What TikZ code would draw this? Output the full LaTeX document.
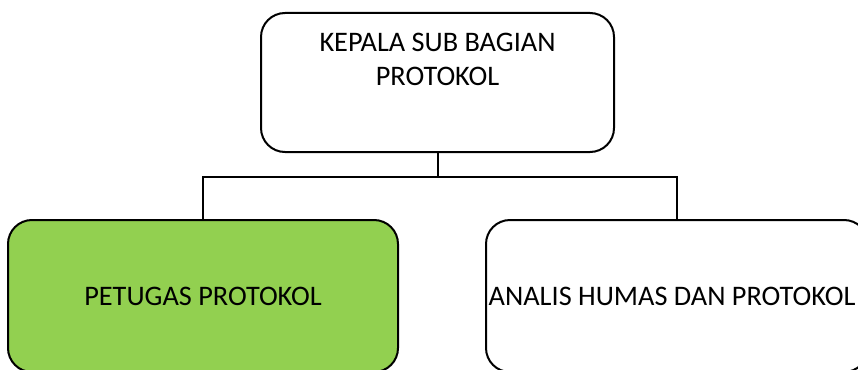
\documentclass[tikz,border=0pt]{standalone}
\usepackage{fontspec}
\setmainfont{Carlito}
\begin{document}
\begin{tikzpicture}[x=1pt,y=-1pt,
  orgbox/.style={draw=black, line width=2pt, rounded corners=24pt, inner sep=0pt},
  boxtext/.style={font=\fontsize{28.3}{34}\selectfont, align=center, inner sep=0pt},
  link/.style={draw=black, line width=2pt}]
  \useasboundingbox (0,0) rectangle (858,369);
  % head of the sub-division
  \node[orgbox, fill=white, minimum width=353pt, minimum height=139pt] (kepala) at (437.5,82.5) {};
  \node[boxtext] (kepalatxt) at (437.5,59) {KEPALA SUB BAGIAN\\PROTOKOL};
  % staff positions
  \node[orgbox, fill={rgb,255:red,146;green,208;blue,80}, minimum width=390pt, minimum height=152pt] (petugas) at (203,296) {};
  \node[boxtext] (petugastxt) at (203,296) {PETUGAS PROTOKOL};
  \node[orgbox, fill=white, minimum width=382pt, minimum height=152pt] (analis) at (677,296) {};
  \node[boxtext] (analistxt) at (672,296) {ANALIS HUMAS DAN PROTOKOL};
  % connectors
  \coordinate (bus) at (437.5,177);
  \draw[link] (kepala.south) -- (bus);
  \draw[link] (petugas.north) |- (bus) -| (analis.north);
\end{tikzpicture}
\end{document}
